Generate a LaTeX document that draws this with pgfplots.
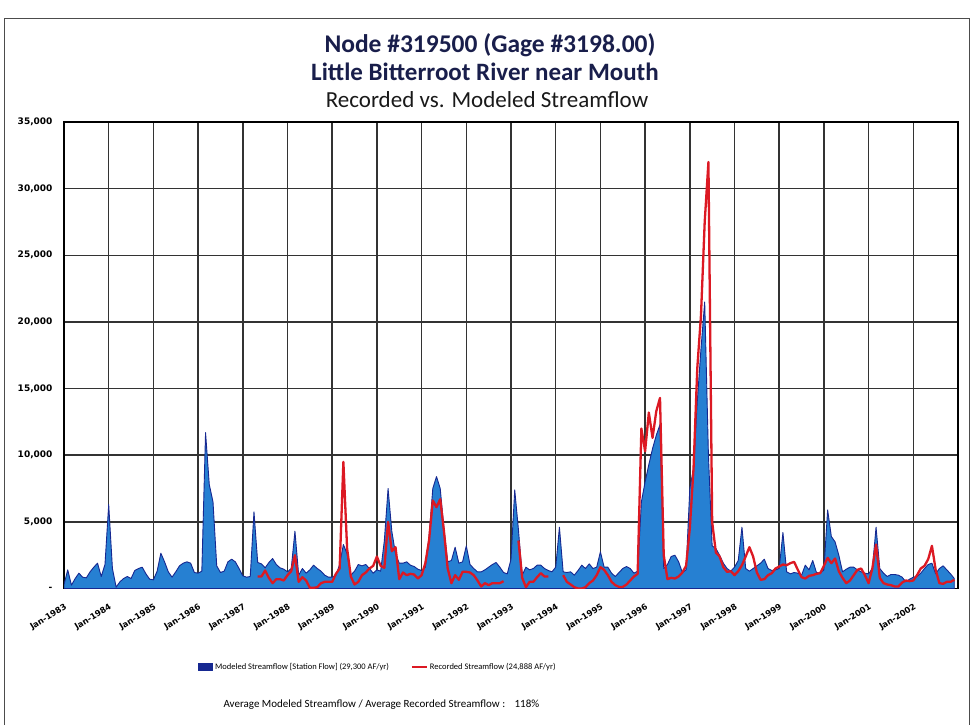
\documentclass[border=0pt]{standalone}
\usepackage{pgfplots}
\pgfplotsset{compat=1.18}
\usepackage{pgfplotstable}
\usepackage{fontspec}
\setmainfont{Carlito}
\newfontfamily\tickfont{DejaVu Sans}

\definecolor{areablue}{RGB}{38,128,210}
\definecolor{edgeblue}{RGB}{22,40,145}
\definecolor{recred}{RGB}{220,25,35}
\definecolor{titleblue}{RGB}{25,30,75}

% month index (0 = Jan-1983), modeled and recorded flow (AF)
\pgfplotstableread[row sep=\\]{
m mod rec \\
0 300 nan \\ 1 1400 nan \\ 2 250 nan \\ 3 750 nan \\ 4 1150 nan \\ 5 850 nan \\ 6 800 nan \\ 7 1250 nan \\ 8 1600 nan \\ 9 1900 nan \\ 10 900 nan \\ 11 1800 nan \\
12 6300 nan \\ 13 1500 nan \\ 14 100 nan \\ 15 500 nan \\ 16 750 nan \\ 17 900 nan \\ 18 750 nan \\ 19 1350 nan \\ 20 1500 nan \\ 21 1600 nan \\ 22 1100 nan \\ 23 700 nan \\
24 650 nan \\ 25 1300 nan \\ 26 2650 nan \\ 27 2000 nan \\ 28 1250 nan \\ 29 850 nan \\ 30 1250 nan \\ 31 1700 nan \\ 32 1900 nan \\ 33 2000 nan \\ 34 1900 nan \\ 35 1200 nan \\
36 1150 nan \\ 37 1300 nan \\ 38 11700 nan \\ 39 7800 nan \\ 40 6500 nan \\ 41 1700 nan \\ 42 1200 nan \\ 43 1300 nan \\ 44 2000 nan \\ 45 2200 nan \\ 46 2000 nan \\ 47 1500 nan \\
48 950 nan \\ 49 850 nan \\ 50 900 nan \\ 51 5750 nan \\ 52 1950 900 \\ 53 1850 900 \\ 54 1550 1350 \\ 55 1950 800 \\ 56 2250 400 \\ 57 1800 700 \\ 58 1550 700 \\ 59 1450 600 \\
60 1250 1000 \\ 61 1500 1300 \\ 62 4300 2500 \\ 63 1000 500 \\ 64 1500 850 \\ 65 1150 600 \\ 66 1400 50 \\ 67 1750 50 \\ 68 1500 100 \\ 69 1300 400 \\ 70 1000 500 \\ 71 850 500 \\
72 850 500 \\ 73 1000 1100 \\ 74 1800 1500 \\ 75 3300 9500 \\ 76 2600 3000 \\ 77 1000 900 \\ 78 1300 300 \\ 79 1800 500 \\ 80 1700 1000 \\ 81 1800 1200 \\ 82 1500 1500 \\ 83 1150 1700 \\
84 1400 2400 \\ 85 1300 1700 \\ 86 3600 1550 \\ 87 7500 5000 \\ 88 4300 2800 \\ 89 2600 3100 \\ 90 1900 700 \\ 91 1900 1200 \\ 92 2000 1000 \\ 93 1750 1100 \\ 94 1650 1050 \\ 95 1450 750 \\
96 1350 1000 \\ 97 1600 1900 \\ 98 3900 3600 \\ 99 7500 6600 \\ 100 8400 6100 \\ 101 7500 6700 \\ 102 4500 4300 \\ 103 2000 1500 \\ 104 2100 400 \\ 105 3100 1000 \\ 106 1900 650 \\ 107 2000 1250 \\
108 3200 1250 \\ 109 1800 1200 \\ 110 1500 1000 \\ 111 1250 600 \\ 112 1250 150 \\ 113 1400 400 \\ 114 1600 250 \\ 115 1800 400 \\ 116 1950 400 \\ 117 1600 400 \\ 118 1200 550 \\ 119 1100 nan \\
120 2200 nan \\ 121 7400 nan \\ 122 4400 3600 \\ 123 1000 800 \\ 124 1600 100 \\ 125 1400 500 \\ 126 1500 500 \\ 127 1750 850 \\ 128 1750 1150 \\ 129 1500 900 \\ 130 1350 900 \\ 131 1250 nan \\
132 1600 nan \\ 133 4600 nan \\ 134 1250 1000 \\ 135 1200 500 \\ 136 1250 300 \\ 137 1000 100 \\ 138 1350 0 \\ 139 1750 0 \\ 140 1500 100 \\ 141 1850 400 \\ 142 1500 600 \\ 143 1600 1000 \\
144 2750 1600 \\ 145 1600 1400 \\ 146 1600 1000 \\ 147 1150 500 \\ 148 900 250 \\ 149 1200 120 \\ 150 1500 120 \\ 151 1650 300 \\ 152 1500 600 \\ 153 1150 900 \\ 154 1300 1100 \\ 155 6500 12000 \\
156 8000 10300 \\ 157 9300 13200 \\ 158 10500 11300 \\ 159 11500 13300 \\ 160 12300 14300 \\ 161 1500 2500 \\ 162 1800 700 \\ 163 2400 800 \\ 164 2500 750 \\ 165 2000 900 \\ 166 1200 1200 \\ 167 1400 1700 \\
168 7500 4500 \\ 169 9000 9000 \\ 170 14000 16500 \\ 171 18000 20500 \\ 172 21500 27500 \\ 173 10000 32000 \\ 174 3200 5000 \\ 175 3000 2700 \\ 176 2500 2400 \\ 177 1900 1600 \\ 178 1500 1250 \\ 179 1300 1300 \\
180 1600 1000 \\ 181 2100 1300 \\ 182 4600 1750 \\ 183 1500 2400 \\ 184 1300 3100 \\ 185 1500 2400 \\ 186 1700 1200 \\ 187 1900 650 \\ 188 2200 700 \\ 189 1500 1000 \\ 190 1350 1150 \\ 191 1400 1500 \\
192 1500 1650 \\ 193 4200 1800 \\ 194 1250 1750 \\ 195 1100 1900 \\ 196 1200 2000 \\ 197 1150 1400 \\ 198 1000 850 \\ 199 1750 750 \\ 200 1400 950 \\ 201 2100 1000 \\ 202 1200 1100 \\ 203 1150 1150 \\
204 1400 1700 \\ 205 5900 2300 \\ 206 3900 1900 \\ 207 3500 2250 \\ 208 2500 1300 \\ 209 1250 800 \\ 210 1450 400 \\ 211 1600 600 \\ 212 1600 1000 \\ 213 1400 1400 \\ 214 1250 1500 \\ 215 1150 1000 \\
216 1100 400 \\ 217 1500 1500 \\ 218 4600 3300 \\ 219 1500 800 \\ 220 1150 400 \\ 221 900 300 \\ 222 1050 250 \\ 223 1050 150 \\ 224 1000 150 \\ 225 850 450 \\ 226 500 600 \\ 227 700 550 \\
228 850 600 \\ 229 900 1000 \\ 230 1150 1500 \\ 231 1500 1700 \\ 232 1800 2200 \\ 233 1900 3200 \\ 234 1100 1400 \\ 235 1500 400 \\ 236 1700 350 \\ 237 1400 500 \\ 238 1100 500 \\ 239 750 650 \\
}\flowdata

\begin{document}
\begin{tikzpicture}[x=1pt,y=1pt]
\useasboundingbox (0,0) rectangle (973,725);
\draw[black!70, line width=0.8pt] (4,0) -- (4,707) -- (969,707) -- (969,0);

\node[font=\fontsize{25.5}{28}\selectfont\bfseries, text=titleblue] at (490,680) {Node \#319500 (Gage \#3198.00)};
\node[font=\fontsize{25}{28}\selectfont\bfseries, text=titleblue] at (485,653) {Little Bitterroot River near Mouth};
\node[font=\fontsize{23}{26}\selectfont, text=black!90] at (487,625) {Recorded vs. Modeled Streamflow};

\begin{axis}[
    at={(64pt,136.5pt)}, anchor=south west,
    scale only axis, width=894pt, height=466.5pt,
    xmin=0, xmax=240, ymin=0, ymax=35000,
    xtick={0,12,...,240},
    xticklabels={Jan-1983,Jan-1984,Jan-1985,Jan-1986,Jan-1987,Jan-1988,Jan-1989,Jan-1990,Jan-1991,Jan-1992,Jan-1993,Jan-1994,Jan-1995,Jan-1996,Jan-1997,Jan-1998,Jan-1999,Jan-2000,Jan-2001,Jan-2002,{}},
    ytick={0,5000,...,35000},
    scaled y ticks=false,
    yticklabels={{-\hspace{12pt}},{5,000},{10,000},{15,000},{20,000},{25,000},{30,000},{35,000}},
    major tick length=0pt,
    grid=major,
    major grid style={black!80, line width=1.5pt},
    axis line style={black, line width=1.5pt},
    xticklabel style={font=\tickfont\bfseries\fontsize{8.3}{9}\selectfont, inner sep=1pt, xshift=3pt, yshift=-17pt, rotate=32, anchor=east},
    yticklabel style={font=\tickfont\bfseries\fontsize{9}{10}\selectfont, xshift=-8pt},
    unbounded coords=jump,
    legend columns=2,
    legend style={at={(0.150,-0.168)}, anchor=west, draw=none, fill=none,
        font=\fontsize{8.5}{10}\selectfont, inner sep=0pt,
        /tikz/every even column/.append style={column sep=20pt}},
    legend cell align=left,
]
\addplot[fill=areablue, draw=edgeblue, line width=0.9pt, line join=round,
    legend image code/.code={\fill[areablue] (0pt,-3.5pt) rectangle (14pt,3.5pt);
        \draw[edgeblue,line width=0.6pt] (0pt,-3.5pt) rectangle (14pt,3.5pt);}]
    table[x=m,y=mod]{\flowdata} \closedcycle;
\addlegendentry{Modeled Streamflow [Station Flow] (29,300 AF/yr)}
\addplot[recred, line width=2.3pt, line join=round,
    legend image code/.code={\draw[recred,line width=2pt] (0pt,0pt) -- (15pt,0pt);}]
    table[x=m,y=rec]{\flowdata};
\addlegendentry{Recorded Streamflow (24,888 AF/yr)}
\end{axis}

\node[anchor=west, font=\fontsize{11}{13}\selectfont] at (220,20)
    {Average Modeled Streamflow / Average Recorded Streamflow :\hspace{6pt} 118\%};
\end{tikzpicture}
\end{document}
